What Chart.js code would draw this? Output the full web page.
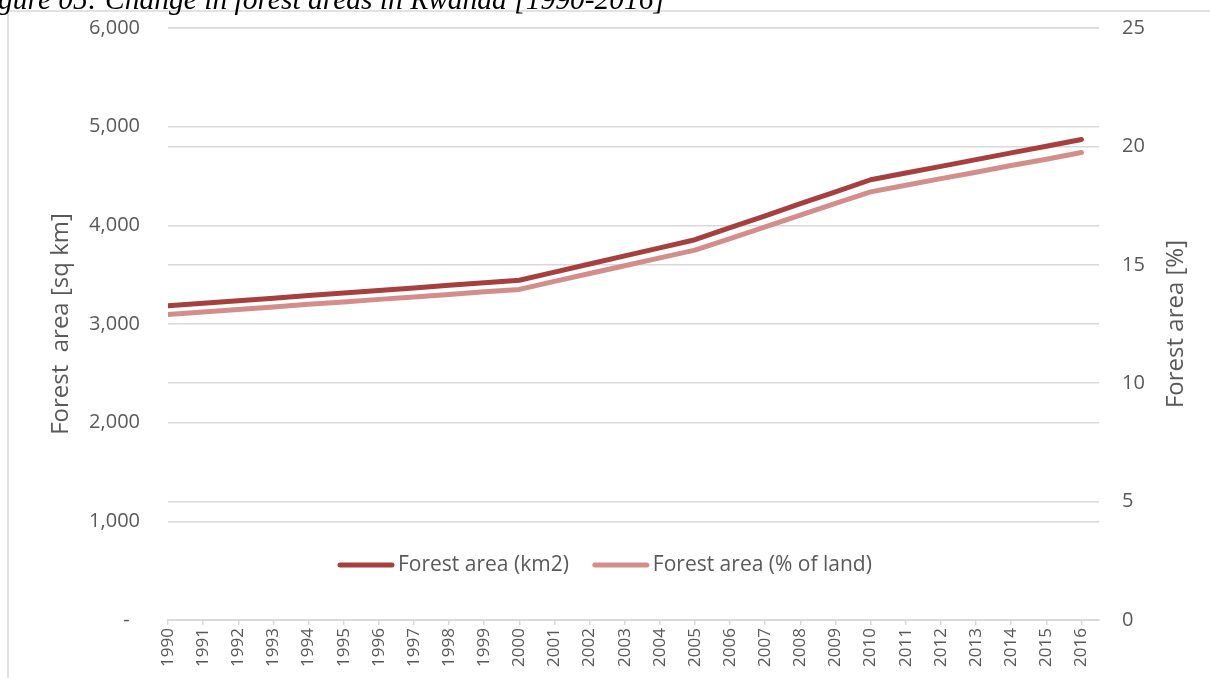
<!DOCTYPE html>
<html>
<head>
<meta charset="utf-8">
<script src="https://cdn.jsdelivr.net/npm/chart.js@4/dist/chart.umd.min.js"></script>
<style>
  html, body { margin: 0; padding: 0; background: #ffffff; }
  canvas { display: block; }
</style>
</head>
<body>
<canvas id="chart" width="1210" height="678"></canvas>
<script>
// Rwanda forest area, 1990-2016
const years = [1990, 1991, 1992, 1993, 1994, 1995, 1996, 1997, 1998, 1999,
               2000, 2001, 2002, 2003, 2004, 2005, 2006, 2007, 2008, 2009,
               2010, 2011, 2012, 2013, 2014, 2015, 2016];

// Forest area in square kilometres (left axis)
const forestKm2 = [3184, 3210, 3236, 3262, 3288, 3314, 3340, 3366, 3392, 3418,
                   3444, 3526, 3608, 3690, 3772, 3854, 3976, 4097, 4219, 4340,
                   4462, 4530, 4598, 4666, 4734, 4802, 4870];

// Forest area as share of land area, % (right axis)
const forestPct = [12.90, 13.01, 13.11, 13.22, 13.33, 13.43, 13.54, 13.64, 13.75, 13.86,
                   13.96, 14.30, 14.63, 14.96, 15.29, 15.62, 16.11, 16.60, 17.10, 17.59,
                   18.08, 18.36, 18.64, 18.91, 19.19, 19.46, 19.74];

const seriesLabels = ['Forest area (km2)', 'Forest area (% of land)'];
const leftTicks = [0, 1000, 2000, 3000, 4000, 5000, 6000];
const rightTicks = [0, 5, 10, 15, 20, 25];

const captionText = 'Figure 05: Change in forest areas in Rwanda [1990-2016]';
const leftTitle = 'Forest  area [sq km]';
const rightTitle = 'Forest area [%]';

const TEXT = '#595959';
const GRID = '#D9D9D9';
const FONT = "'Open Sans', sans-serif";

// Frame of the chart object plus the caption sitting above it
const framePlugin = {
  id: 'frame',
  beforeDraw(chart) {
    const ctx = chart.ctx;
    ctx.save();
    ctx.strokeStyle = GRID;
    ctx.lineWidth = 1.5;
    ctx.beginPath();
    ctx.moveTo(8, 678);
    ctx.lineTo(8, 11);
    ctx.lineTo(1210, 11);
    ctx.stroke();
    ctx.restore();
  },
  afterDraw(chart) {
    const ctx = chart.ctx;
    ctx.save();
    ctx.font = "italic 29.5px 'Liberation Serif', 'Times New Roman', serif";
    ctx.fillStyle = '#000000';
    ctx.textAlign = 'right';
    ctx.textBaseline = 'alphabetic';
    ctx.fillText(captionText, 665, 9);

    // right-hand axis title, reading bottom to top
    const area = chart.chartArea;
    ctx.font = '24px ' + FONT;
    ctx.fillStyle = TEXT;
    ctx.textAlign = 'center';
    ctx.textBaseline = 'middle';
    ctx.translate(1176, (area.top + area.bottom) / 2);
    ctx.rotate(-Math.PI / 2);
    ctx.fillText(rightTitle, 0, 0);
    ctx.restore();
  }
};

// Legend drawn inside the plot area, one line sample per series
const inlineLegend = {
  id: 'inlineLegend',
  afterDatasetsDraw(chart) {
    const ctx = chart.ctx;
    const y = 565;
    let x = 338;
    ctx.save();
    ctx.font = '21px ' + FONT;
    ctx.textBaseline = 'middle';
    ctx.textAlign = 'left';
    chart.data.datasets.forEach((ds) => {
      ctx.strokeStyle = ds.borderColor;
      ctx.lineWidth = 5;
      ctx.lineCap = 'round';
      ctx.beginPath();
      ctx.moveTo(x + 2, y);
      ctx.lineTo(x + 54, y);
      ctx.stroke();
      x += 60;
      ctx.fillStyle = TEXT;
      ctx.fillText(ds.label, x, y);
      x += ctx.measureText(ds.label).width + 24;
    });
    ctx.restore();
  }
};

const toPoints = (vals) => years.map((yr, i) => ({ x: yr, y: vals[i] }));

// fixed axis boxes so the plot area spans x 168..1099, y 28..620
const noEdgePadding = (scale) => {
  scale.paddingTop = 0;
  scale.paddingBottom = 0;
  scale.paddingLeft = 0;
  scale.paddingRight = 0;
};

new Chart(document.getElementById('chart'), {
  type: 'line',
  data: {
    datasets: [
      {
        label: seriesLabels[0],
        data: toPoints(forestKm2),
        yAxisID: 'y',
        borderColor: '#A5403E',
        backgroundColor: '#A5403E',
        borderWidth: 5,
        borderCapStyle: 'round',
        borderJoinStyle: 'round',
        pointRadius: 0,
        tension: 0
      },
      {
        label: seriesLabels[1],
        data: toPoints(forestPct),
        yAxisID: 'y1',
        borderColor: '#D38D8B',
        backgroundColor: '#D38D8B',
        borderWidth: 5,
        borderCapStyle: 'round',
        borderJoinStyle: 'round',
        pointRadius: 0,
        tension: 0
      }
    ]
  },
  options: {
    responsive: false,
    animation: false,
    layout: { padding: { top: 28, left: 0, right: 0, bottom: 0 } },
    plugins: {
      legend: { display: false },
      title: { display: false },
      tooltip: { enabled: false }
    },
    scales: {
      x: {
        type: 'linear',
        min: years[0],
        max: years[years.length - 1] + 0.5,
        afterBuildTicks(scale) {
          scale.ticks = years.map(v => ({ value: v }));
        },
        afterFit(scale) { scale.height = 58; noEdgePadding(scale); },
        ticks: {
          autoSkip: false,
          maxRotation: 90,
          minRotation: 90,
          padding: 3,
          color: TEXT,
          font: { family: FONT, size: 17 },
          callback: (v) => String(v)
        },
        grid: {
          drawOnChartArea: false,
          drawTicks: true,
          tickLength: 5,
          color: GRID,
          lineWidth: 1.5
        },
        border: { display: true, color: GRID, width: 2 }
      },
      y: {
        position: 'left',
        min: 0,
        max: 6000,
        afterBuildTicks(scale) {
          scale.ticks = leftTicks.map(v => ({ value: v }));
        },
        afterFit(scale) { scale.width = 168; noEdgePadding(scale); },
        ticks: {
          padding: 28,
          color: TEXT,
          font: { family: FONT, size: 20 },
          callback: (v) => v === 0 ? '-  ' : v.toLocaleString('en-US')
        },
        grid: { color: GRID, lineWidth: 1.5, drawTicks: false },
        border: { display: false },
        title: {
          display: true,
          text: leftTitle,
          color: TEXT,
          font: { family: FONT, size: 24 },
          padding: { top: 47, bottom: 0 }
        }
      },
      y1: {
        position: 'right',
        min: 0,
        max: 25,
        afterBuildTicks(scale) {
          scale.ticks = rightTicks.map(v => ({ value: v }));
        },
        afterFit(scale) { scale.width = 111; noEdgePadding(scale); },
        ticks: {
          padding: 23,
          color: TEXT,
          font: { family: FONT, size: 20 },
          callback: (v) => String(v)
        },
        grid: { color: GRID, lineWidth: 1.5, drawTicks: false },
        border: { display: false }
      }
    }
  },
  plugins: [framePlugin, inlineLegend]
});
</script>
</body>
</html>
